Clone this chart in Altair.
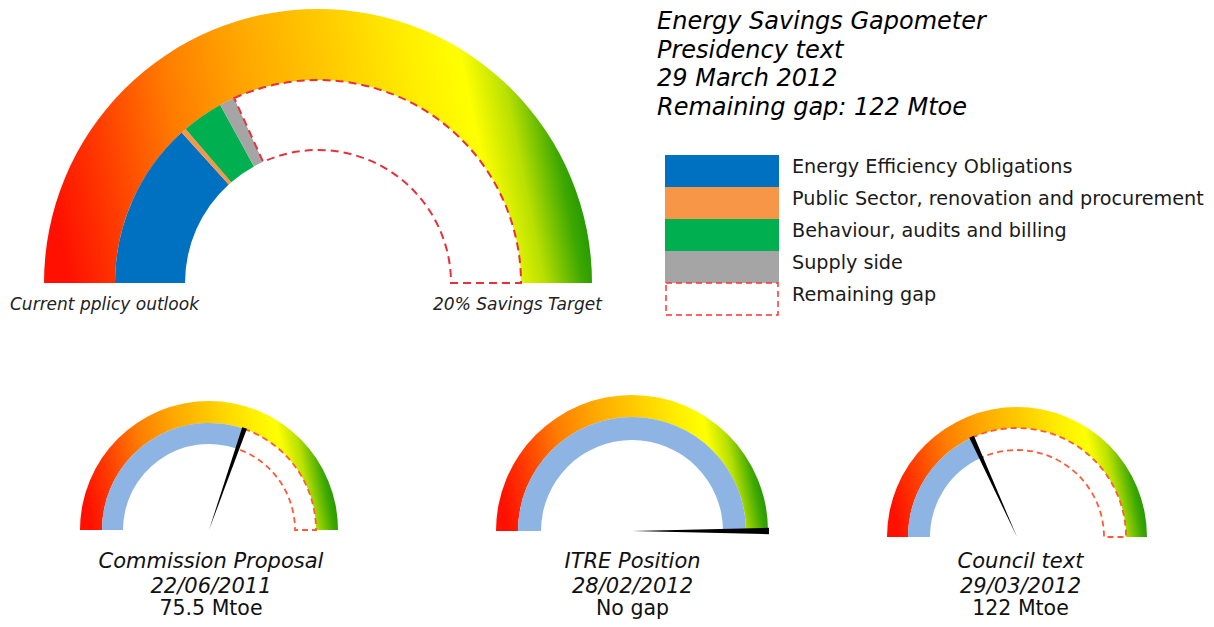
import math
import altair as alt
import pandas as pd

# ---------------- data ----------------
TOTAL = 192  # Mtoe between "current policy outlook" and "20% savings target"

segments = [
    "Energy Efficiency Obligations",
    "Public Sector, renovation and procurement",
    "Behaviour, audits and billing",
    "Supply side",
]
main_values = [51, 1.6, 12.7, 4.7]
main_gap = 122
seg_colors = ["#0070C0", "#F79646", "#00B050", "#A5A5A5"]

gauge_names = ["Commission Proposal", "ITRE Position", "Council text"]
gauge_dates = ["22/06/2011", "28/02/2012", "29/03/2012"]
gauge_gap_labels = ["75.5 Mtoe", "No gap", "122 Mtoe"]
gauge_gaps = [75.5, 0, 122]

title_lines = ["Energy Savings Gapometer", "Presidency text", "29 March 2012",
               "Remaining gap: 122 Mtoe"]
legend_labels = segments + ["Remaining gap"]
end_labels = ["Current pplicy outlook", "20% Savings Target"]

# ---------------- styles ----------------
FONT = "DejaVu Sans"
NEEDLE_HALF = 1.4
GRADIENT = {
    "gradient": "linear", "x1": 0, "y1": 0.55, "x2": 1, "y2": 0.45,
    "stops": [
        {"offset": 0.0, "color": "#ff1000"},
        {"offset": 0.1, "color": "#ff3800"},
        {"offset": 0.25, "color": "#ff7c00"},
        {"offset": 0.4, "color": "#ffa800"},
        {"offset": 0.55, "color": "#ffca00"},
        {"offset": 0.7, "color": "#ffee00"},
        {"offset": 0.79, "color": "#ffff00"},
        {"offset": 0.86, "color": "#b8e000"},
        {"offset": 0.93, "color": "#3da800"},
        {"offset": 1.0, "color": "#008400"},
    ],
}

theta_scale = alt.Scale(domain=[0, TOTAL], range=[-math.pi / 2, math.pi / 2],
                        zero=False, nice=False)
color_scale = alt.Scale(domain=segments, range=seg_colors)


def arc(df, cx, cy, r_out, r_in, color_field=None, **mark):
    enc = dict(
        theta=alt.Theta("start:Q", scale=theta_scale, stack=None),
        theta2="end:Q",
        x=alt.value(cx), y=alt.value(cy),
    )
    if color_field:
        enc["color"] = alt.Color(color_field, scale=color_scale, legend=None)
    return alt.Chart(df).mark_arc(radius=r_out, radius2=r_in, **mark).encode(**enc)


def text(lines, x, y, **mark):
    df = pd.DataFrame({"t": ["\n".join(lines)]})
    return alt.Chart(df).mark_text(font=FONT, lineBreak="\n", baseline="alphabetic",
                                   **mark).encode(
        text="t:N", x=alt.value(x), y=alt.value(y))


layers = []

# ---------------- main gauge ----------------
MCX, MCY = 310, 275
full = pd.DataFrame({"start": [0], "end": [TOTAL]})
layers.append(arc(full, MCX, MCY, 274, 203, fill=GRADIENT))
main_df = pd.DataFrame({"segment": segments, "value": main_values})
main_df["end"] = main_df["value"].cumsum()
main_df["start"] = main_df["end"] - main_df["value"]
layers.append(arc(main_df, MCX, MCY, 203, 133, color_field="segment:N"))
gap_df = pd.DataFrame({"start": [TOTAL - main_gap], "end": [TOTAL]})
layers.append(arc(gap_df, MCX, MCY, 203, 133, fill="white", stroke="#e8303a",
                  strokeWidth=2, strokeDash=[8, 5]))
layers.append(text([end_labels[0]], 2, 302, fontSize=17, fontStyle="italic",
                   align="left", color="#222222"))
layers.append(text([end_labels[1]], 425, 302, fontSize=17, fontStyle="italic",
                   align="left", color="#222222"))

# ---------------- title ----------------
layers.append(text(title_lines, 649, 21, fontSize=24, fontStyle="italic",
                   align="left", lineHeight=28.5, color="#000000"))

# ---------------- legend ----------------
leg_df = pd.DataFrame({"label": legend_labels})
y_leg = alt.Y("label:N", scale=alt.Scale(domain=legend_labels, range=[147, 307],
                                          paddingInner=0, paddingOuter=0),
              axis=None)
layers.append(alt.Chart(leg_df).transform_filter(
    alt.FieldOneOfPredicate(field="label", oneOf=segments)).mark_rect().encode(
    y=y_leg, x=alt.value(657), x2=alt.value(771),
    color=alt.Color("label:N", scale=color_scale, legend=None)))
layers.append(alt.Chart(leg_df).transform_filter(
    alt.datum.label == "Remaining gap").mark_rect(
    fill="white", stroke="#ff3030", strokeWidth=1.5, strokeDash=[6, 4]).encode(
    y=y_leg, x=alt.value(658), x2=alt.value(770)))
layers.append(alt.Chart(leg_df).mark_text(
    font=FONT, fontSize=19.2, align="left", baseline="middle", dy=-4,
    color="#1a1a1a").encode(y=y_leg, x=alt.value(784), text="label:N"))

# ---------------- small gauges ----------------
small_geom = [  # cx, cy, r_outer, r_mid, r_inner, needle length, caption x
    (201, 522, 129, 107, 86, 108, 203),
    (624, 523, 136, 114, 91, 137, 624.5),
    (1009, 529, 130, 109, 87, 110, 1012.5),
]
for name, date, glabel, gap, (cx, cy, ro, rm, ri, nl, tx) in zip(
        gauge_names, gauge_dates, gauge_gap_labels, gauge_gaps, small_geom):
    covered = TOTAL - gap
    layers.append(arc(full, cx, cy, ro, rm, fill=GRADIENT))
    layers.append(arc(pd.DataFrame({"start": [0], "end": [covered]}),
                      cx, cy, rm, ri, fill="#8db4e2"))
    if gap > 0:
        layers.append(arc(pd.DataFrame({"start": [covered], "end": [TOTAL]}),
                          cx, cy, rm, ri, fill="white", stroke="#ff5a36",
                          strokeWidth=1.8, strokeDash=[6, 4]))
    layers.append(arc(pd.DataFrame({"start": [covered - NEEDLE_HALF],
                                    "end": [covered + NEEDLE_HALF]}),
                      cx, cy, nl, 0, fill="#000000"))
    layers.append(text([name, date], tx, 560, fontSize=21, fontStyle="italic",
                       align="center", lineHeight=25, color="#111111"))
    layers.append(text([glabel], tx, 607, fontSize=20.5, align="center",
                       color="#111111"))

chart = alt.layer(*layers).properties(
    width=1198, height=611,
    autosize=alt.AutoSizeParams(type="fit", contains="padding"),
    padding=0,
).configure_view(stroke=None)

chart.save("out.html", embed_options={"renderer": "svg", "actions": False})
